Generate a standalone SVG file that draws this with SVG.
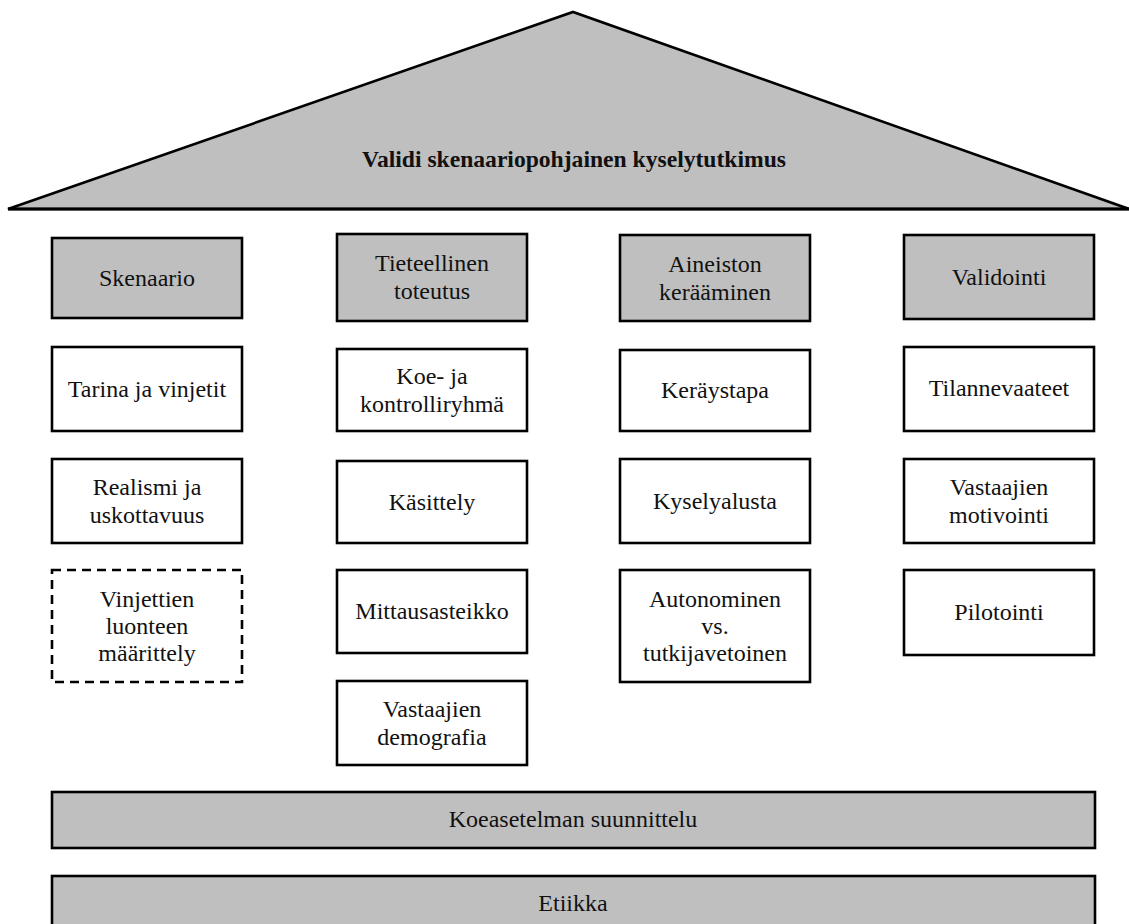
<svg xmlns="http://www.w3.org/2000/svg" width="1129" height="924" viewBox="0 0 1129 924">
<style>
  .box { fill: #ffffff; stroke: #000; stroke-width: 2.6; }
  .gray { fill: #bfbfbf; stroke: #000; stroke-width: 2.6; }
  .dash { fill: #ffffff; stroke: #000; stroke-width: 2.6; stroke-dasharray: 9 6; }
  text { font-family: "Liberation Serif", "Times New Roman", serif; font-size: 24px; fill: #111; text-anchor: middle; }
  .title { font-weight: bold; font-size: 23.6px; }
</style>
<rect width="1129" height="924" fill="#ffffff"/>
<g id="roof">
  <polygon points="8,209 573,12 1129,209" fill="#bfbfbf" stroke="#000" stroke-width="2.6" stroke-linejoin="miter"/>
  <line x1="8" y1="209" x2="1129" y2="209" stroke="#000" stroke-width="3.2"/>
  <text class="title" x="574" y="167">Validi skenaariopohjainen kyselytutkimus</text>
</g>
<g id="connectors"></g>
<!-- Column 1 -->
<g id="skenaario">
  <rect class="gray" x="52" y="238" width="190" height="80"/>
  <text x="147" y="286">Skenaario</text>
</g>
<g id="tarina">
  <rect class="box" x="52" y="347" width="190" height="84"/>
  <text x="147" y="397">Tarina ja vinjetit</text>
</g>
<g id="realismi">
  <rect class="box" x="52" y="459" width="190" height="84"/>
  <text x="147" y="495">Realismi ja</text>
  <text x="147" y="523">uskottavuus</text>
</g>
<g id="vinjettien">
  <rect class="dash" x="52" y="570" width="190" height="112"/>
  <text x="147" y="607">Vinjettien</text>
  <text x="147" y="634">luonteen</text>
  <text x="147" y="661">määrittely</text>
</g>
<!-- Column 2 -->
<g id="tieteellinen">
  <rect class="gray" x="337" y="234" width="190" height="87"/>
  <text x="432" y="271">Tieteellinen</text>
  <text x="432" y="299">toteutus</text>
</g>
<g id="koe">
  <rect class="box" x="337" y="349" width="190" height="82"/>
  <text x="432" y="384">Koe- ja</text>
  <text x="432" y="412">kontrolliryhmä</text>
</g>
<g id="kasittely">
  <rect class="box" x="337" y="461" width="190" height="82"/>
  <text x="432" y="510">Käsittely</text>
</g>
<g id="mittaus">
  <rect class="box" x="337" y="570" width="190" height="83"/>
  <text x="432" y="619">Mittausasteikko</text>
</g>
<g id="demografia">
  <rect class="box" x="337" y="681" width="190" height="84"/>
  <text x="432" y="717">Vastaajien</text>
  <text x="432" y="745">demografia</text>
</g>
<!-- Column 3 -->
<g id="aineiston">
  <rect class="gray" x="620" y="235" width="190" height="86"/>
  <text x="715" y="272">Aineiston</text>
  <text x="715" y="300">kerääminen</text>
</g>
<g id="keraystapa">
  <rect class="box" x="620" y="350" width="190" height="81"/>
  <text x="715" y="398">Keräystapa</text>
</g>
<g id="kyselyalusta">
  <rect class="box" x="620" y="459" width="190" height="84"/>
  <text x="715" y="509">Kyselyalusta</text>
</g>
<g id="autonominen">
  <rect class="box" x="620" y="570" width="190" height="112"/>
  <text x="715" y="607">Autonominen</text>
  <text x="715" y="634">vs.</text>
  <text x="715" y="661">tutkijavetoinen</text>
</g>
<!-- Column 4 -->
<g id="validointi">
  <rect class="gray" x="904" y="235" width="190" height="84"/>
  <text x="999" y="285">Validointi</text>
</g>
<g id="tilannevaateet">
  <rect class="box" x="904" y="347" width="190" height="84"/>
  <text x="999" y="396">Tilannevaateet</text>
</g>
<g id="motivointi">
  <rect class="box" x="904" y="459" width="190" height="84"/>
  <text x="999" y="495">Vastaajien</text>
  <text x="999" y="523">motivointi</text>
</g>
<g id="pilotointi">
  <rect class="box" x="904" y="570" width="190" height="85"/>
  <text x="999" y="620">Pilotointi</text>
</g>
<!-- Bottom bars -->
<g id="koeasetelman">
  <rect class="gray" x="52" y="792" width="1043" height="56"/>
  <text x="573" y="827">Koeasetelman suunnittelu</text>
</g>
<g id="etiikka">
  <rect class="gray" x="52" y="876" width="1043" height="60"/>
  <text x="573" y="911">Etiikka</text>
</g>
</svg>
